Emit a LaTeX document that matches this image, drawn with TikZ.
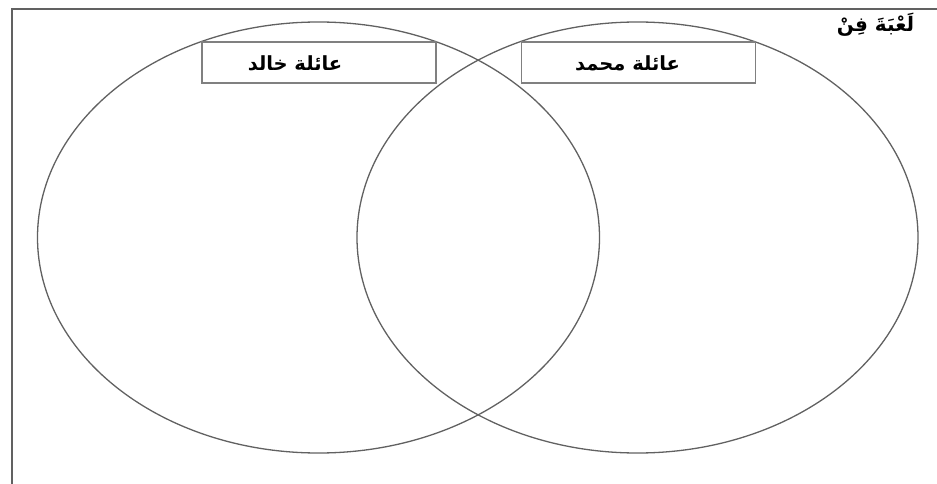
\documentclass[tikz,border=0pt]{standalone}
\usepackage{fontspec}
\newfontfamily\arabicfont[Script=Arabic]{DejaVu Sans}
\TeXXeTstate=1
\usetikzlibrary{shapes.geometric,positioning}

\begin{document}
\begin{tikzpicture}[
  x=1pt, y=-1pt,
  family/.style={
    ellipse,
    draw=black!62,
    line width=1.3pt,
    minimum width=#1,
    minimum height=431pt,
    inner sep=0pt
  },
  family/.default=562pt,
  namebox/.style={
    draw=black!50,
    line width=1.3pt,
    minimum width=234pt,
    minimum height=41pt,
    inner sep=0pt
  },
  famname/.style={font=\arabicfont\bfseries\fontsize{19.5}{22}\selectfont, inner sep=1pt},
  gametitle/.style={font=\arabicfont\bfseries\fontsize{20}{22}\selectfont, inner sep=1pt},
  frame/.style={draw=black!62, line width=2pt}
]
\useasboundingbox (0,0) rectangle (937,484);

% ===== Frame =====
\coordinate (fbot) at (12,484);
\coordinate (fcorner) at (12,9.5);
\coordinate (fright) at (937,9.5);
\draw[frame] (fbot) -- (fcorner) -- (fright);

\node[gametitle] (game) at (875.5,25) {\beginR لَعْبَةَ فِنْ\endR};

% ===== Two families =====
\node[family] (khalid) at (318.5,237.5) {};
\node[family=561pt] (mohammed) at (637.5,237.5) {};

% ===== Name boxes =====
\node[namebox, fill=white] (kbox) at (319,62.5) {};
\node[namebox, fill=white] (mbox) at (638.5,62.5) {};
\node[famname] (ktext) at ([xshift=-24pt,yshift=-1pt]kbox.center) {\beginR عائلة خالد\endR};
\node[famname] (mtext) at ([xshift=-11pt,yshift=-1pt]mbox.center) {\beginR عائلة محمد\endR};

\end{tikzpicture}
\end{document}
